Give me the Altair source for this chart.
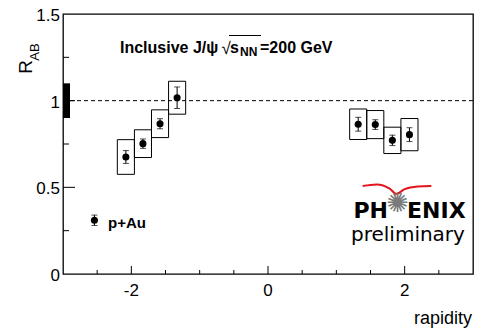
import altair as alt
import pandas as pd

# ---- data ----
rapidity = [-2.08, -1.83, -1.58, -1.33, 1.32, 1.57, 1.82, 2.07]
r_ab = [0.675, 0.752, 0.867, 1.017, 0.864, 0.862, 0.771, 0.804]
stat_err = [0.037, 0.027, 0.029, 0.062, 0.040, 0.028, 0.030, 0.040]
sys_err = [0.100, 0.080, 0.080, 0.095, 0.088, 0.081, 0.076, 0.093]
bin_half_width = 0.125
global_sys = 0.10

legend_x = [-2.54]
legend_y = [0.31]
legend_err = [0.03]

x_major_ticks = [-2, 0, 2]
x_minor_ticks = [-2.5, -1.5, -1, -0.5, 0.5, 1, 1.5, 2.5]
y_major_ticks = [0.5, 1.0]
y_minor_ticks = [0.25, 0.75, 1.25]
y_labels = [0, 0.5, 1, 1.5]

# decorative swoosh of the PHENIX logo
swoosh_x = [1.385, 1.59, 1.78, 1.88, 2.0, 2.19, 2.39]
swoosh_y = [0.508, 0.517, 0.493, 0.462, 0.490, 0.505, 0.508]

df = pd.DataFrame({"rap": rapidity, "r": r_ab})
df["lo"] = df["r"] - pd.Series(stat_err)
df["hi"] = df["r"] + pd.Series(stat_err)
df["blo"] = df["r"] - pd.Series(sys_err)
df["bhi"] = df["r"] + pd.Series(sys_err)
df["xlo"] = df["rap"] - bin_half_width
df["xhi"] = df["rap"] + bin_half_width

leg = pd.DataFrame({"rap": legend_x, "r": legend_y})
leg["lo"] = leg["r"] - pd.Series(legend_err)
leg["hi"] = leg["r"] + pd.Series(legend_err)

xs = alt.Scale(domain=[-3, 3], nice=False, zero=False)
ys = alt.Scale(domain=[0, 1.5], nice=False, zero=False)

FONT = "Liberation Sans"


def X(f):
    return alt.X(f, scale=xs, axis=None)


def Y(f):
    return alt.Y(f, scale=ys, axis=None)


boxes = alt.Chart(df).mark_rect(fill="transparent", stroke="black", strokeWidth=1).encode(
    x=X("xlo:Q"), x2="xhi:Q", y=Y("blo:Q"), y2="bhi:Q")


def points_layers(data):
    b = alt.Chart(data)
    pts = b.mark_circle(size=50, color="black", opacity=1).encode(x=X("rap:Q"), y=Y("r:Q"))
    bars = b.mark_rule(color="black", strokeWidth=1).encode(x=X("rap:Q"), y=Y("lo:Q"), y2="hi:Q")
    cap_lo = b.mark_tick(orient="horizontal", size=6, thickness=1, color="black").encode(
        x=X("rap:Q"), y=Y("lo:Q"))
    cap_hi = b.mark_tick(orient="horizontal", size=6, thickness=1, color="black").encode(
        x=X("rap:Q"), y=Y("hi:Q"))
    return [bars, cap_lo, cap_hi, pts]


unity = alt.Chart(pd.DataFrame({"v": [1.0]})).mark_rule(
    color="black", strokeWidth=1, strokeDash=[4, 3]).encode(y=Y("v:Q"))

gbox = alt.Chart(pd.DataFrame({"lo": [1 - global_sys], "hi": [1 + global_sys]})).mark_rect(
    color="black").encode(x=alt.value(0), x2=alt.value(7), y=Y("lo:Q"), y2="hi:Q")

# inward ticks
xt_major = alt.Chart(pd.DataFrame({"t": x_major_ticks})).mark_rule(color="black", strokeWidth=1).encode(
    x=X("t:Q"), y=alt.value(260), y2=alt.value(252))
xt_minor = alt.Chart(pd.DataFrame({"t": x_minor_ticks})).mark_rule(color="black", strokeWidth=1).encode(
    x=X("t:Q"), y=alt.value(260), y2=alt.value(256))
yt_major = alt.Chart(pd.DataFrame({"t": y_major_ticks})).mark_rule(color="black", strokeWidth=1).encode(
    y=Y("t:Q"), x=alt.value(0), x2=alt.value(12))
yt_minor = alt.Chart(pd.DataFrame({"t": y_minor_ticks})).mark_rule(color="black", strokeWidth=1).encode(
    y=Y("t:Q"), x=alt.value(0), x2=alt.value(6))

# tick labels
x_lab = alt.Chart(pd.DataFrame({"t": x_major_ticks, "s": [f"{v:g}" for v in x_major_ticks]})).mark_text(
    font=FONT, fontSize=17, align="center", baseline="alphabetic", color="black").encode(
    x=X("t:Q"), y=alt.value(282), text="s:N")
y_lab = alt.Chart(pd.DataFrame({"t": y_labels, "s": [f"{v:g}" for v in y_labels]})).mark_text(
    font=FONT, fontSize=17, align="right", baseline="middle", color="black", dy=2).encode(
    y=Y("t:Q"), x=alt.value(-3), text="s:N")

swoosh = alt.Chart(pd.DataFrame({"x": swoosh_x, "y": swoosh_y})).mark_line(
    color="#e3141b", strokeWidth=2, interpolate="monotone").encode(x=X("x:Q"), y=Y("y:Q"))


def label(text, x, y, **kw):
    return alt.Chart(pd.DataFrame({"t": [text]})).mark_text(**kw).encode(
        x=alt.value(x), y=alt.value(y), text="t:N")


texts = [
    label("R", -37, 53, font=FONT, fontSize=19, angle=270, align="center", color="black"),
    label("AB", -28.5, 38, font=FONT, fontSize=13, angle=270, align="center", color="black"),
    label("rapidity", 409, 304.5, font=FONT, fontSize=18, align="right", color="black"),
    label("Inclusive J/\u03c8", 57, 34, font=FONT, fontSize=16, fontWeight="bold", align="left", color="black"),
    label("\u221a", 158.5, 35, font=FONT, fontSize=17, align="left", color="black"),
    label("s", 167, 34, font=FONT, fontSize=16, fontWeight="bold", align="left", color="black"),
    label("NN", 177, 37.5, font=FONT, fontSize=12, fontWeight="bold", align="left", color="black"),
    label("=200 GeV", 197, 34, font=FONT, fontSize=16, fontWeight="bold", align="left", color="black"),
    label("p+Au", 45, 209, font=FONT, fontSize=15, fontWeight="bold", align="left", color="black"),
    label("PH", 325, 197, font="DejaVu Sans", fontSize=22, fontWeight="bold", align="right", color="black"),
    label("\u273a", 334.5, 190, font="DejaVu Sans", fontSize=27, align="center", baseline="middle", color="#7a7a7a"),
    label("ENIX", 344, 197, font="DejaVu Sans", fontSize=22, fontWeight="bold", align="left", color="black"),
    label("preliminary", 288, 221, font="DejaVu Sans", fontSize=20, align="left", color="black"),
]

overline = alt.Chart(pd.DataFrame({"a": [0]})).mark_rule(color="black", strokeWidth=1).encode(
    x=alt.value(166), x2=alt.value(198), y=alt.value(21.5))

layers = [boxes, unity, gbox, xt_major, xt_minor, yt_major, yt_minor, x_lab, y_lab, swoosh, overline]
layers += points_layers(df) + points_layers(leg) + texts

chart = alt.layer(*layers).properties(
    width=410, height=260,
    autosize=alt.AutoSizeParams(type="none"),
    padding={"left": 55, "top": 6, "right": 14, "bottom": 57},
    background="white",
).configure_view(stroke="black", strokeWidth=1.3)

chart.save("out.html", embed_options={"renderer": "svg", "actions": False})
